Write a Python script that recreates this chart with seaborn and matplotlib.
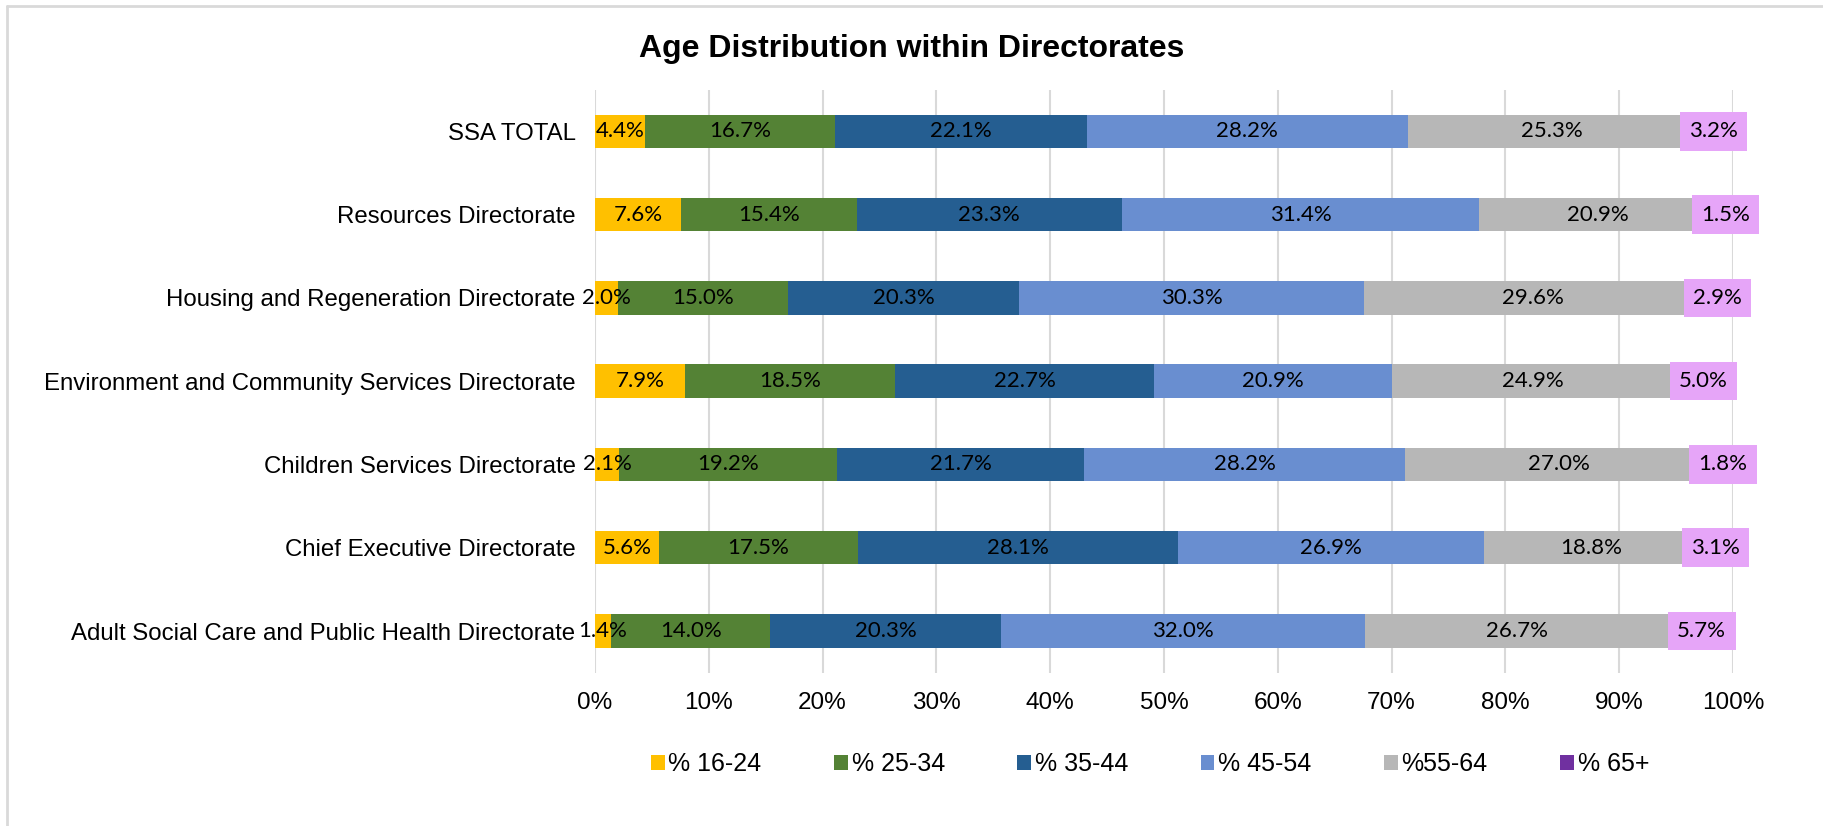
import matplotlib
matplotlib.use("Agg")
import matplotlib.pyplot as plt
from matplotlib.lines import Line2D
from matplotlib.patches import Patch
import seaborn as sns
import pandas as pd
import numpy as np

categories = [
    "SSA TOTAL",
    "Resources Directorate",
    "Housing and Regeneration Directorate",
    "Environment and Community Services Directorate",
    "Children Services Directorate",
    "Chief Executive Directorate",
    "Adult Social Care and Public Health Directorate",
]
series_names = ["% 16-24", "% 25-34", "% 35-44", "% 45-54", "%55-64", "% 65+"]
age_16_24 = [4.4, 7.6, 2.0, 7.9, 2.1, 5.6, 1.4]
age_25_34 = [16.7, 15.4, 15.0, 18.5, 19.2, 17.5, 14.0]
age_35_44 = [22.1, 23.3, 20.3, 22.7, 21.7, 28.1, 20.3]
age_45_54 = [28.2, 31.4, 30.3, 20.9, 28.2, 26.9, 32.0]
age_55_64 = [25.3, 20.9, 29.6, 24.9, 27.0, 18.8, 26.7]
age_65_plus = [3.2, 1.5, 2.9, 5.0, 1.8, 3.1, 5.7]
tick_values = [0, 10, 20, 30, 40, 50, 60, 70, 80, 90, 100]
tick_labels = [f"{v}%" for v in tick_values]

colors = ["#FFC000", "#548235", "#255E91", "#698ED0", "#B7B7B7", "#7030A0"]
label_box_color = "#E6A5F8"

sns.set_theme(style="white")
plt.rcParams["font.family"] = ["Liberation Sans", "DejaVu Sans"]
plt.rcParams["text.color"] = "#000000"
plt.rcParams["xtick.color"] = "#000000"
plt.rcParams["ytick.color"] = "#000000"
plt.rcParams["xtick.labelcolor"] = "#000000"
plt.rcParams["ytick.labelcolor"] = "#000000"
plt.rcParams["legend.labelcolor"] = "#000000"

fig = plt.figure(figsize=(18.23, 8.26), dpi=100)
ax = fig.add_axes([595 / 1823, 1 - 672.7 / 826, (1733 - 595) / 1823, (672.7 - 89.6) / 826])

series = [age_16_24, age_25_34, age_35_44, age_45_54, age_55_64, age_65_plus]
arr = np.array(series)  # shape (6, 7)
cum = np.cumsum(arr, axis=0)

# grid behind bars
ax.set_axisbelow(True)
ax.grid(axis="x", color="#D9D9D9", linewidth=1.5)
ax.grid(axis="y", visible=False)

# draw stacked bars: largest cumulative first
for i in range(len(series) - 1, -1, -1):
    df = pd.DataFrame({"category": categories, "value": cum[i]})
    sns.barplot(data=df, x="value", y="category", order=categories, color=colors[i],
                saturation=1, width=0.40, linewidth=0, ax=ax, orient="h")

# data labels
for i in range(len(series)):
    for j in range(len(categories)):
        start = cum[i][j] - arr[i][j]
        center = start + arr[i][j] / 2
        txt = f"{arr[i][j]:.1f}%"
        kw = dict(ha="center", va="center", fontsize=16, family=["Lato", "DejaVu Sans"],
                  color="#000000", clip_on=False, zorder=5)
        if i == len(series) - 1:
            kw["bbox"] = dict(boxstyle="square,pad=0.42", facecolor=label_box_color,
                              edgecolor="none")
        ax.text(center, j, txt, **kw)

ax.set_xlim(0, 100)
ax.set_xticks(tick_values)
ax.set_xticklabels(tick_labels)
ax.set_xlabel("")
ax.set_ylabel("")
ax.tick_params(axis="x", length=0, pad=14, labelsize=17.5, labelcolor="#000000")
ax.tick_params(axis="y", length=0, pad=14, labelsize=17.3, labelcolor="#000000")
for s in ax.spines.values():
    s.set_visible(False)

fig.text(0.5, 1 - 49 / 826, "Age Distribution within Directorates", ha="center", va="center",
         fontsize=23, fontweight="bold", color="#000000")

handles = [Patch(facecolor=c, edgecolor="none") for c in colors]
fig.legend(handles, series_names, loc="center", bbox_to_anchor=(1150 / 1823, 1 - 764 / 826),
           ncol=6, frameon=False, fontsize=18, handlelength=0.55, handleheight=0.55,
           handletextpad=0.15, columnspacing=2.9, labelcolor="#000000")

# outer frame lines (left and top)
fig.add_artist(Line2D([7 / 1823, 7 / 1823], [0, 1 - 6 / 826], color="#D9D9D9", linewidth=2,
                      transform=fig.transFigure))
fig.add_artist(Line2D([7 / 1823, 1], [1 - 6 / 826, 1 - 6 / 826], color="#D9D9D9", linewidth=2,
                      transform=fig.transFigure))

fig.savefig("out.png", dpi=100, facecolor="white")
